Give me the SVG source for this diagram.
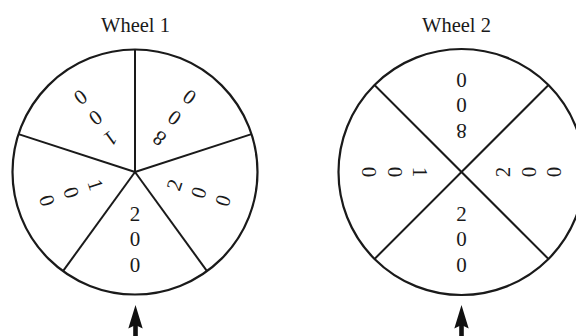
<svg xmlns="http://www.w3.org/2000/svg" width="576" height="336" viewBox="0 0 576 336">
<style>
.rim{fill:#fff;stroke:#1a1a1a;stroke-width:2.2}
.spoke{stroke:#1a1a1a;stroke-width:2;fill:none}
.title{font-family:"Liberation Serif","Times New Roman",serif;font-size:20.5px;fill:#1a1a1a;text-anchor:middle}
.num{font-family:"Liberation Serif","Times New Roman",serif;font-size:21px;fill:#1a1a1a;text-anchor:middle}
.ptr{fill:#111;stroke:none}
</style>
<defs>
<g id="lab200"><text class="num" x="0" y="48.5">2</text><text class="num" x="0" y="74">0</text><text class="num" x="0" y="99.5">0</text></g>
<g id="lab100"><text class="num" x="0" y="48.5">1</text><text class="num" x="0" y="74">0</text><text class="num" x="0" y="99.5">0</text></g>
<g id="lab800"><text class="num" x="0" y="48.5">8</text><text class="num" x="0" y="74">0</text><text class="num" x="0" y="99.5">0</text></g>
</defs>
<g id="wheel1">
<text class="title" x="135.5" y="31.5">Wheel 1</text>
<circle class="rim" cx="135" cy="172" r="122.5"/>
<g class="spoke" transform="translate(135,172)">
<line x1="0" y1="0" x2="0" y2="-122.5"/>
<line x1="0" y1="0" x2="116.5" y2="-37.9"/>
<line x1="0" y1="0" x2="72" y2="99.1"/>
<line x1="0" y1="0" x2="-72" y2="99.1"/>
<line x1="0" y1="0" x2="-116.5" y2="-37.9"/>
</g>
<g transform="translate(135,172)">
<use href="#lab200"/>
<use href="#lab200" transform="rotate(-72)"/>
<use href="#lab800" transform="rotate(-144)"/>
<use href="#lab100" transform="rotate(144)"/>
<use href="#lab100" transform="rotate(72)"/>
</g>
</g>
<g id="wheel2">
<text class="title" x="456.5" y="31.5">Wheel 2</text>
<circle class="rim" cx="461.5" cy="172" r="123"/>
<g class="spoke" transform="translate(461.5,172)">
<line x1="-87" y1="-87" x2="87" y2="87"/>
<line x1="87" y1="-87" x2="-87" y2="87"/>
</g>
<g transform="translate(461.5,172)">
<use href="#lab200"/>
<use href="#lab200" transform="rotate(-90)"/>
<use href="#lab800" transform="rotate(180)"/>
<use href="#lab100" transform="rotate(90)"/>
</g>
</g>
<g id="connectors">
<g id="pointer1" transform="translate(135.5,0)">
<rect class="ptr" x="-2.3" y="320" width="4.6" height="16"/>
<path class="ptr" d="M0,305 L7.2,328.5 L0,325 L-7.2,328.5 Z"/>
</g>
<g id="pointer2" transform="translate(461.5,0)">
<rect class="ptr" x="-2.3" y="320" width="4.6" height="16"/>
<path class="ptr" d="M0,305 L7.2,328.5 L0,325 L-7.2,328.5 Z"/>
</g>
</g>
</svg>
